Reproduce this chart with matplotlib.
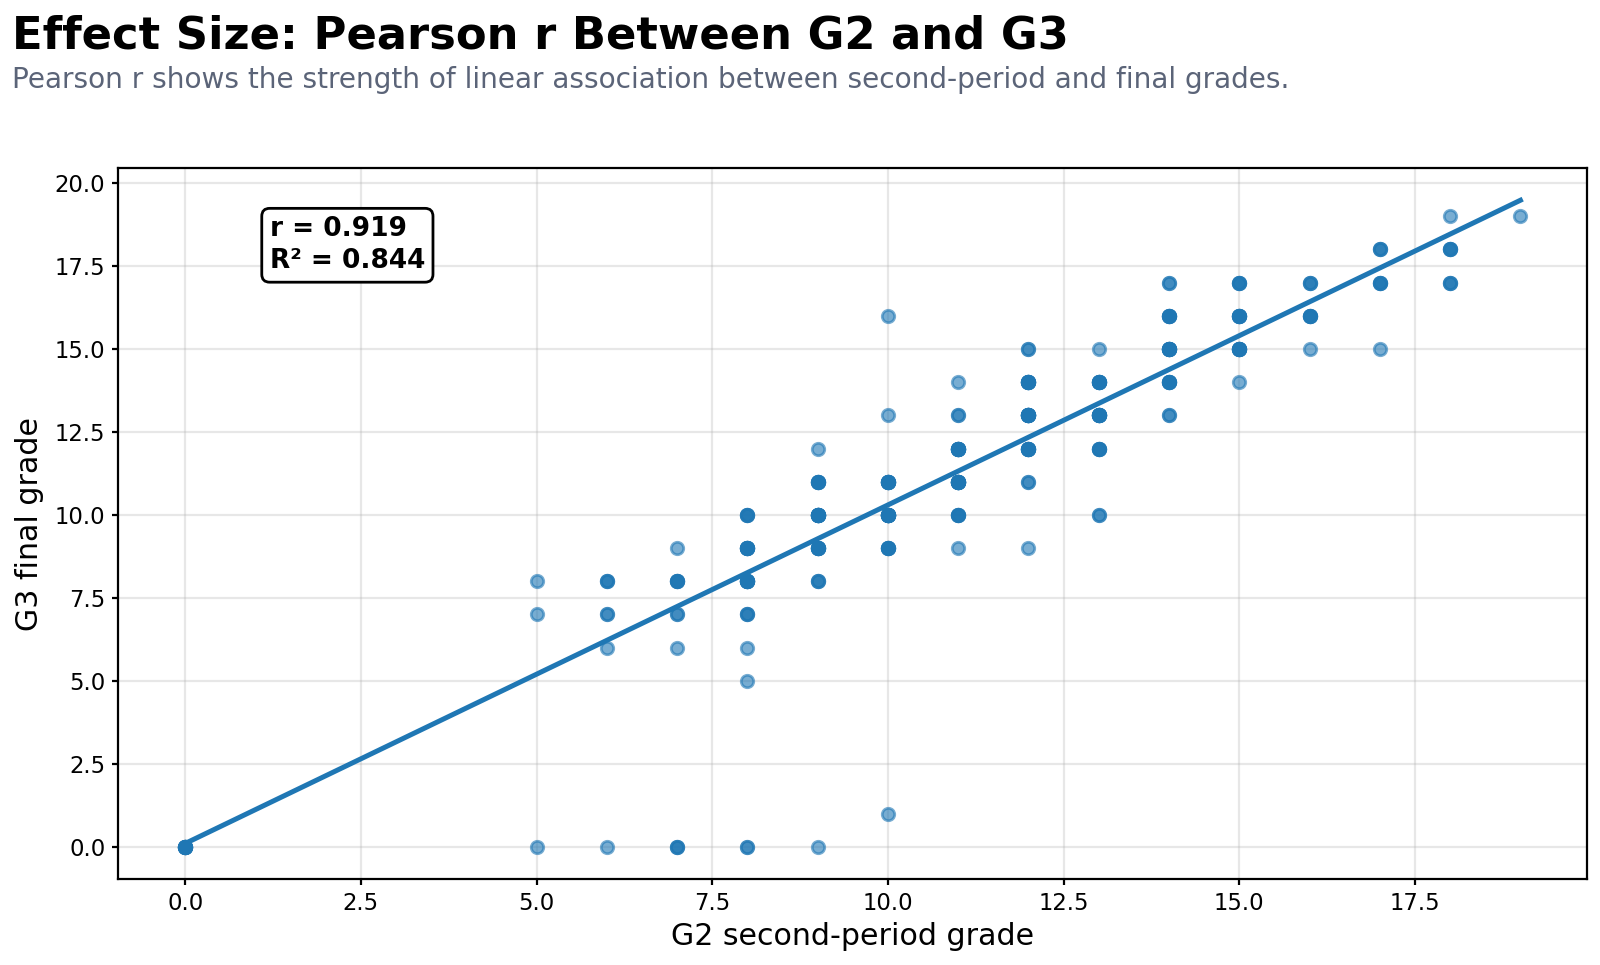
import numpy as np
import matplotlib
matplotlib.use('Agg')
import matplotlib.pyplot as plt

# unique (G2, G3) pairs, with an estimated count for each
g2 = [0,
      5, 5, 5,
      6, 6, 6, 6,
      7, 7, 7, 7, 7,
      8, 8, 8, 8, 8, 8, 8,
      9, 9, 9, 9, 9, 9,
      10, 10, 10, 10, 10, 10,
      11, 11, 11, 11, 11, 11,
      12, 12, 12, 12, 12, 12,
      13, 13, 13, 13, 13,
      14, 14, 14, 14, 14,
      15, 15, 15, 15,
      16, 16, 16,
      17, 17, 17,
      18, 18, 18,
      19]
g3 = [0,
      8, 7, 0,
      8, 7, 6, 0,
      9, 8, 7, 6, 0,
      10, 9, 8, 7, 6, 5, 0,
      12, 11, 10, 9, 8, 0,
      16, 13, 11, 10, 9, 1,
      14, 13, 12, 11, 10, 9,
      15, 14, 13, 12, 11, 9,
      15, 14, 13, 12, 10,
      17, 16, 15, 14, 13,
      17, 16, 15, 14,
      17, 16, 15,
      18, 17, 15,
      19, 18, 17,
      19]
counts = [10,
          1, 1, 1,
          3, 2, 1, 1,
          1, 5, 2, 1, 3,
          4, 8, 9, 3, 1, 1, 2,
          1, 6, 12, 8, 3, 1,
          1, 1, 9, 14, 6, 1,
          1, 2, 10, 12, 5, 1,
          2, 9, 12, 8, 2, 1,
          1, 8, 10, 5, 2,
          2, 6, 9, 6, 2,
          4, 7, 8, 1,
          3, 5, 1,
          3, 4, 1,
          1, 4, 3,
          1]

r_value = 0.919
r_squared = 0.844
fit_slope = 1.02
fit_intercept = 0.1

x = np.repeat(g2, counts)
y = np.repeat(g3, counts)

fig = plt.figure(figsize=(8, 4.825), dpi=200)
ax = fig.add_axes([0.074, 0.089, 0.918, 0.737])

ax.scatter(x, y, s=20, color='#1f77b4', alpha=0.6)
xs = np.array([min(g2), max(g2)])
ax.plot(xs, fit_slope * xs + fit_intercept, color='#1f77b4', lw=1.8)

ax.grid(True, alpha=0.3)
ax.set_axisbelow(True)
ax.set_xticks(np.arange(0, 20, 2.5))
ax.set_yticks(np.arange(0, 20.1, 2.5))
ax.tick_params(labelsize=8.2, length=2.2, pad=2.5)
ax.set_xlabel('G2 second-period grade', fontsize=10.8, labelpad=2.5)
ax.set_ylabel('G3 final grade', fontsize=10.8)

ax.text(0.103, 0.932, f'r = {r_value:.3f}\nR\u00b2 = {r_squared:.3f}', transform=ax.transAxes,
        fontsize=9.5, fontweight='bold', va='top', ha='left', linespacing=1.3,
        bbox=dict(boxstyle='round,pad=0.3', facecolor='white', edgecolor='black'))

fig.text(0.0077, 0.985, 'Effect Size: Pearson r Between G2 and G3', fontsize=16.15,
         fontweight='bold', va='top', ha='left')
fig.text(0.0077, 0.932, 'Pearson r shows the strength of linear association between second-period and final grades.',
         fontsize=10.1, color='#5b6478', va='top', ha='left')

fig.savefig('out.png', dpi=200)
